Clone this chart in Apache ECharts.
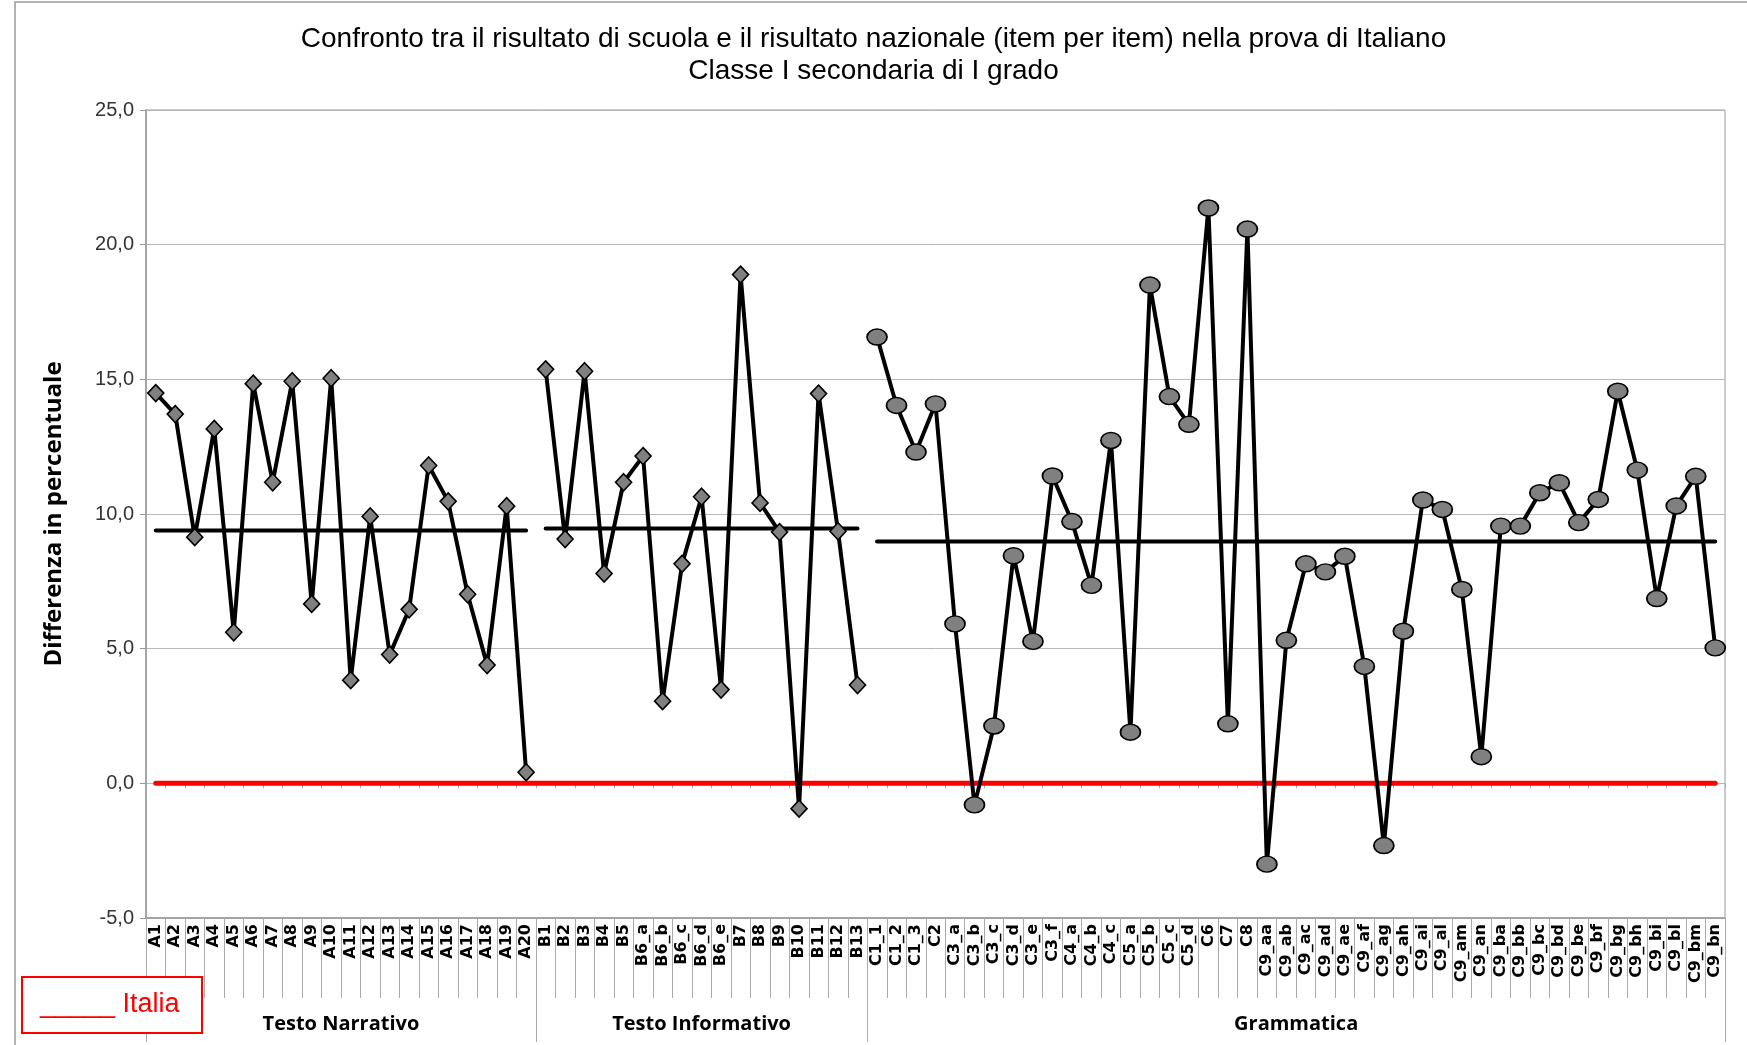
<!DOCTYPE html>
<html><head><meta charset="utf-8">
<script src="https://cdn.jsdelivr.net/npm/echarts@6/dist/echarts.min.js"></script>
<style>html,body{margin:0;padding:0;background:#fff}#c{width:1747px;height:1045px}</style>
</head><body><div id="c"></div>
<script>
const catNarrativo = ['A1','A2','A3','A4','A5','A6','A7','A8','A9','A10','A11','A12','A13','A14','A15','A16','A17','A18','A19','A20'];
const catInformativo = ['B1','B2','B3','B4','B5','B6_a','B6_b','B6_c','B6_d','B6_e','B7','B8','B9','B10','B11','B12','B13'];
const catGrammatica = ['C1_1','C1_2','C1_3','C2','C3_a','C3_b','C3_c','C3_d','C3_e','C3_f','C4_a','C4_b','C4_c','C5_a','C5_b','C5_c','C5_d','C6','C7','C8',
  'C9_aa','C9_ab','C9_ac','C9_ad','C9_ae','C9_af','C9_ag','C9_ah','C9_ai','C9_al','C9_am','C9_an','C9_ba','C9_bb','C9_bc','C9_bd','C9_be','C9_bf','C9_bg','C9_bh','C9_bi','C9_bl','C9_bm','C9_bn'];

const valNarrativo = [14.49,13.71,9.14,13.16,5.61,14.84,11.18,14.93,6.66,15.04,3.83,9.91,4.78,6.46,11.80,10.47,7.02,4.39,10.29,0.41];
const valInformativo = [15.37,9.07,15.30,7.79,11.18,12.15,3.05,8.15,10.64,3.48,18.89,10.41,9.33,-0.94,14.47,9.36,3.65];
const valGrammatica = [16.57,14.03,12.30,14.09,5.92,-0.80,2.13,8.45,5.27,11.41,9.72,7.35,12.73,1.90,18.50,14.36,13.33,21.36,2.21,20.58,
  -3.00,5.31,8.15,7.85,8.43,4.34,-2.31,5.65,10.52,10.17,7.20,0.99,9.55,9.55,10.79,11.16,9.68,10.54,14.56,11.63,6.86,10.30,11.40,5.03];

const mediaGruppi = [9.39, 9.46, 8.98];
const nomiGruppi = ['Testo Narrativo', 'Testo Informativo', 'Grammatica'];
const valItalia = 0;
const yMin = -5, yMax = 25, yStep = 5;

const titolo = 'Confronto tra il risultato di scuola e il risultato nazionale (item per item) nella prova di Italiano\nClasse I secondaria di I grado';
const nomeAsseY = 'Differenza in percentuale';

const categories = catNarrativo.concat(catInformativo, catGrammatica);
const N = categories.length;
const gruppi = [catNarrativo.length, catInformativo.length, catGrammatica.length];
const starts = [0, gruppi[0], gruppi[0] + gruppi[1]];

function pad(start, arr) {
  const out = new Array(N).fill('-');
  arr.forEach((v, i) => { out[start + i] = v; });
  return out;
}
const valori = [valNarrativo, valInformativo, valGrammatica];

const series = [];
series.push({
  name: 'Italia', type: 'line', data: new Array(N).fill(valItalia), symbol: 'none', z: 2,
  lineStyle: { color: '#ff0000', width: 5, cap: 'round' }, itemStyle: { color: '#ff0000' }, silent: true
});
for (let g = 0; g < 3; g++) {
  series.push({
    type: 'line', data: pad(starts[g], new Array(gruppi[g]).fill(mediaGruppi[g])), symbol: 'none', z: 3,
    lineStyle: { color: '#000', width: 4, cap: 'round' }, silent: true
  });
}
for (let g = 0; g < 3; g++) {
  const circle = g === 2;
  series.push({
    type: 'line', data: pad(starts[g], valori[g]), z: 5,
    symbol: circle ? 'circle' : 'diamond',
    symbolSize: circle ? [20, 16] : [16, 17],
    lineStyle: { color: '#000', width: 4 },
    itemStyle: { color: '#808080', borderColor: '#000', borderWidth: 1.6 },
    silent: true
  });
}

const groupCenters = [];
const groupBounds = [0];
for (let g = 0; g < 3; g++) {
  groupCenters.push(starts[g] + gruppi[g] / 2);
  groupBounds.push(starts[g] + gruppi[g]);
}

const chart = echarts.init(document.getElementById('c'), null, { renderer: 'canvas' });
chart.setOption({
  animation: false,
  backgroundColor: '#fff',
  title: {
    text: titolo, left: 'center', top: 18,
    textStyle: { fontFamily: 'Liberation Sans', fontSize: 28, fontWeight: 'normal', color: '#000', lineHeight: 32 }
  },
  grid: { left: 146, right: 22, top: 110, bottom: 127, show: true, borderColor: '#999', borderWidth: 1, backgroundColor: 'transparent' },
  xAxis: [
    {
      type: 'category', data: categories, boundaryGap: true, position: 'bottom',
      axisLine: { onZero: false, lineStyle: { color: '#999', width: 1.5 } },
      axisTick: { show: true, interval: 0, length: 80, lineStyle: { color: '#aaa' } },
      axisLabel: { interval: 0, rotate: 90, fontFamily: 'DejaVu Sans', fontWeight: 'bold', fontSize: 16, color: '#000', margin: 6 },
      splitLine: { show: false }
    },
    {
      type: 'category', data: categories, boundaryGap: true, position: 'bottom',
      axisLine: { show: false, onZero: true },
      axisTick: { show: true, interval: 0, length: 5, lineStyle: { color: '#aaa' } },
      axisLabel: { show: false }, splitLine: { show: false }
    },
    {
      type: 'value', min: 0, max: N, position: 'bottom',
      axisLine: { show: false, onZero: false },
      splitLine: { show: false },
      axisTick: { show: true, customValues: groupBounds, length: 124, lineStyle: { color: '#aaa' } },
      axisLabel: {
        show: true, customValues: groupCenters, margin: 96,
        formatter: function (v) { const i = groupCenters.indexOf(v); return i >= 0 ? nomiGruppi[i] : ''; },
        fontFamily: 'Open Sans', fontWeight: 'bold', fontSize: 20, color: '#000'
      }
    }
  ],
  yAxis: {
    type: 'value', min: yMin, max: yMax, interval: yStep,
    axisLine: { show: true, lineStyle: { color: '#999', width: 1.5 } },
    axisTick: { show: true, length: 6, lineStyle: { color: '#999' } },
    axisLabel: { formatter: v => v.toFixed(1).replace('.', ','), fontFamily: 'Liberation Sans', fontSize: 20, color: '#333', margin: 12 },
    splitLine: { show: true, lineStyle: { color: '#b8b8b8', width: 1 } },
    name: nomeAsseY, nameLocation: 'middle', nameGap: 80, nameRotate: 90,
    nameTextStyle: { fontFamily: 'Open Sans', fontSize: 24, fontWeight: 'bold', color: '#000' }
  },
  series: series,
  graphic: [
    { type: 'rect', silent: true, z: -10, shape: { x: 15, y: 2, width: 1800, height: 1100 }, style: { fill: 'none', stroke: '#999', lineWidth: 1.5 } },
    { type: 'rect', silent: true, z: 100, shape: { x: 22, y: 977, width: 180, height: 56 }, style: { fill: '#fff', stroke: '#ff0000', lineWidth: 2 } },
    { type: 'text', silent: true, z: 101, x: 40, y: 1005, style: { text: '_____ Italia', fill: '#ff0000', fontFamily: 'Liberation Sans', fontSize: 27, verticalAlign: 'middle' } }
  ]
});
</script></body></html>
